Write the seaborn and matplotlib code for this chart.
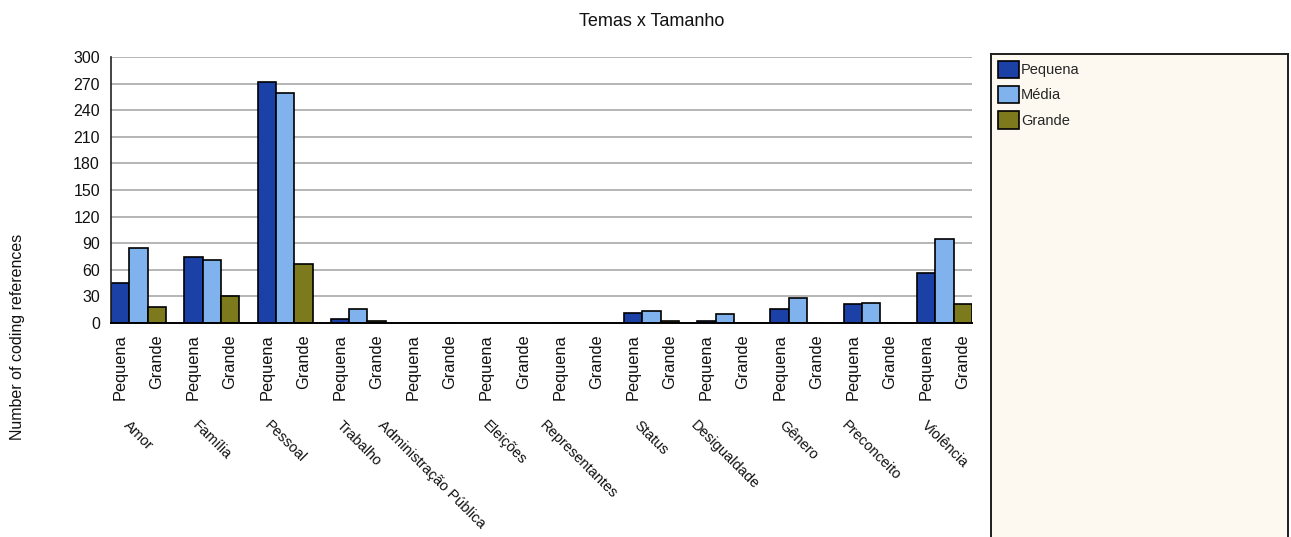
import matplotlib
matplotlib.use("Agg")
import matplotlib.pyplot as plt
import matplotlib.transforms as mtransforms
import numpy as np
import pandas as pd
import seaborn as sns

# Themes and coding-reference counts per group size
temas = ["Amor", "Família", "Pessoal", "Trabalho", "Administração Pública",
         "Eleições", "Representantes", "Status", "Desigualdade", "Gênero",
         "Preconceito", "Violência"]
tamanhos = ["Pequena", "Média", "Grande"]
pequena = [45, 74, 272, 4, 0, 0, 0, 11, 2, 16, 21, 56]
media = [85, 71, 259, 16, 0, 0, 0, 14, 10, 28, 23, 95]
grande = [18, 30, 66, 2, 0, 0, 0, 2, 0, 0, 0, 21]
yticks = list(range(0, 301, 30))
cores = ["#1C41A6", "#80B3EE", "#7C7A1C"]

df = pd.DataFrame({
    "Tema": np.repeat(temas, 3),
    "Tamanho": tamanhos * len(temas),
    "Valor": [v for trio in zip(pequena, media, grande) for v in trio],
})

sns.set_theme(style="white")
plt.rcParams["font.family"] = ["Liberation Sans", "DejaVu Sans"]

W, H = 1291, 537
fig = plt.figure(figsize=(W / 100, H / 100), dpi=100)
fig.patch.set_facecolor("white")

ax_l, ax_r, ax_t, ax_b = 111, 972, 57, 323
ax = fig.add_axes([ax_l / W, 1 - ax_b / H, (ax_r - ax_l) / W, (ax_b - ax_t) / H])

sns.barplot(data=df, x="Tema", y="Valor", hue="Tamanho", order=temas,
            hue_order=tamanhos, palette=cores, width=0.75, saturation=1,
            edgecolor="black", linewidth=1.2, ax=ax)

handles, labels = ax.get_legend_handles_labels()
if ax.get_legend() is not None:
    ax.get_legend().remove()

ax.set_xlim(-0.375, len(temas) - 1 + 0.375)
ax.set_ylim(0, 300)
ax.set_yticks(yticks)
ax.set_yticklabels([str(v) for v in yticks], fontsize=11.5, color="#111111")
ax.yaxis.grid(True, color="#A9A9A9", linewidth=1.2)
ax.xaxis.grid(False)
ax.set_axisbelow(True)
ax.set_facecolor("white")

# Size labels under the first and last bar of every theme
pos = []
tick_lbl = []
for i in range(len(temas)):
    pos += [i - 0.25, i + 0.25]
    tick_lbl += ["Pequena", "Grande"]
ax.set_xticks(pos)
ax.set_xticklabels(tick_lbl, rotation=90, fontsize=11.8, color="#111111")
ax.tick_params(axis="both", length=0)
ax.tick_params(axis="x", pad=8)
ax.tick_params(axis="y", pad=8)
ax.set_xlabel("")
ax.set_ylabel("")

for side in ["top", "right"]:
    ax.spines[side].set_visible(False)
ax.spines["left"].set_color("#222222")
ax.spines["left"].set_linewidth(1.2)
ax.spines["bottom"].set_color("black")
ax.spines["bottom"].set_linewidth(1.4)

# Theme names, slanted beneath each group
trans = mtransforms.blended_transform_factory(ax.transData, fig.transFigure)
for i, tema in enumerate(temas):
    ax.text(i, 1 - 418 / H, tema, transform=trans, rotation=-45,
            ha="center", va="top", fontsize=10.5, color="#111111")

fig.text(18 / W, 1 - 337 / H, "Number of coding references", rotation=90,
         ha="center", va="center", fontsize=11.5, color="#111111")
fig.text(652 / W, 1 - 21 / H, "Temas x Tamanho", ha="center", va="center",
         fontsize=13, color="#111111")

# Legend panel on the right
lx0, lx1, ly0 = 991, 1288, 54
lax = fig.add_axes([lx0 / W, -0.05, (lx1 - lx0) / W, 1 - ly0 / H + 0.05])
lax.set_facecolor("#FDF9F0")
lax.set_xticks([])
lax.set_yticks([])
for s in lax.spines.values():
    s.set_color("#1E1E1E")
    s.set_linewidth(1.4)
lax.legend(handles, labels, loc="upper left", bbox_to_anchor=(0, 1),
           frameon=False, fontsize=10.5, handlelength=1.5, handleheight=1.45,
           handletextpad=0.12, labelspacing=0.55, borderaxespad=0,
           borderpad=0.45)

fig.savefig("out.png", dpi=100)
